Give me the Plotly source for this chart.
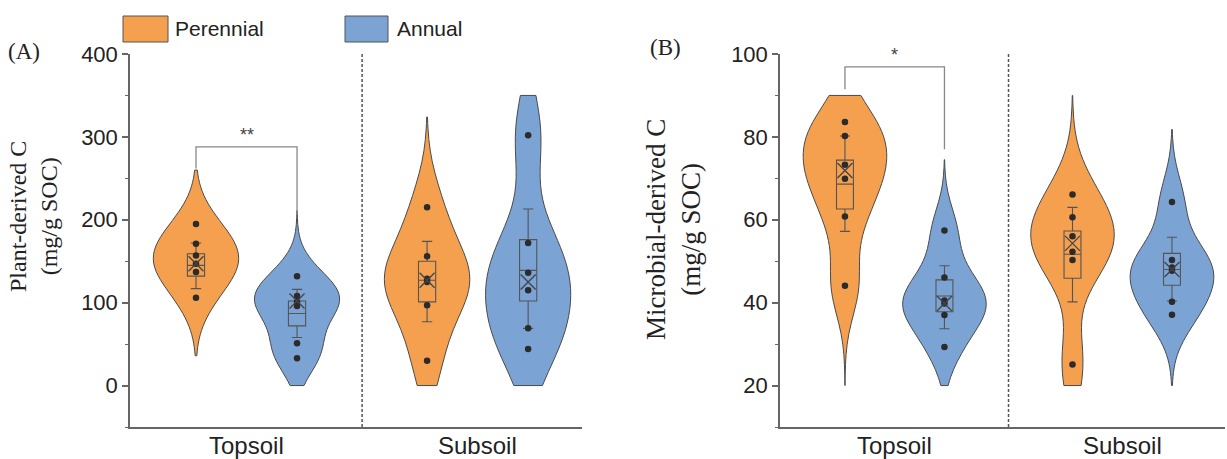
import numpy as np
import plotly.graph_objects as go

W, H = 1227, 459

# ---------------- data ----------------
groups = ["Topsoil", "Subsoil"]
treatments = ["Perennial", "Annual"]

# Panel A: Plant-derived C (mg/g SOC)
plant_top_per = [195, 171, 157, 147, 137, 106]
plant_top_ann = [132, 108, 101, 96, 51, 33]
plant_sub_per = [215, 156, 129, 125, 97, 30]
plant_sub_ann = [302, 172, 136, 115, 69, 44]

# box statistics: q1, median, q3, lower whisker, upper whisker, mean
plant_q1 = [132, 72, 101, 102]
plant_med = [145, 87, 127, 139]
plant_q3 = [159, 102, 150, 176]
plant_lo = [117, 58, 77, 69]
plant_hi = [172, 116, 174, 213]
plant_mean = [147, 102, 127, 125]
plant_span = [[36, 260], [0, 211], [0, 324], [0, 350]]

# Panel B: Microbial-derived C (mg/g SOC)
micro_top_per = [83.6, 80.2, 73.3, 69.9, 60.8, 44.1]
micro_top_ann = [57.4, 46.1, 40.5, 39.8, 37.0, 29.3]
micro_sub_per = [66.1, 60.6, 56.0, 52.3, 50.3, 25.1]
micro_sub_ann = [64.3, 50.3, 48.5, 47.7, 40.2, 37.1]

micro_q1 = [62.6, 37.8, 45.9, 44.2]
micro_med = [68.6, 41.6, 51.7, 48.0]
micro_q3 = [74.4, 45.5, 57.3, 51.9]
micro_lo = [57.2, 33.7, 40.2, 40.4]
micro_hi = [80.2, 48.9, 63.0, 55.8]
micro_mean = [71.9, 39.8, 54.3, 48.0]
micro_span = [[20, 90], [20, 74.5], [20, 90], [20, 81.8]]

sig_labels = ["**", "*"]
plant_bracket = [288, 262, 207]   # bar height, left leg end, right leg end
micro_bracket = [96.9, 91.5, 77.0]

# ---------------- style / layout constants ----------------
pos = [0, 1, 2.287, 3.287]
xr = [-0.653, 3.82]
divider_x = 1.644
colors = ["#F4A04F", "#7BA3D4", "#F4A04F", "#7BA3D4"]
bw_plant = [31, 26, 42, 50]
bw_micro = [7.5, 6.0, 8.5, 6.5]
vio_w = 0.84
axis_col = "#666666"
dark = "#2b2b2b"

def px(x):
    return x / W

def py(y):
    return 1 - y / H

fig = go.Figure()

def add_panel(xa, ya, series, q1, med, q3, lo, hi, mean, spans, bws):
    for i, vals in enumerate(series):
        fig.add_trace(go.Violin(
            x=[pos[i]] * len(vals), y=vals, xaxis=xa, yaxis=ya,
            width=vio_w, bandwidth=bws[i], spanmode="manual", span=spans[i],
            scalemode="width", fillcolor=colors[i], opacity=1,
            line=dict(color="#4a4a4a", width=1), points=False,
            box_visible=False, meanline_visible=False,
            hoverinfo="skip", showlegend=False))
    for i in range(len(series)):
        fig.add_trace(go.Box(
            x=[pos[i]], q1=[q1[i]], median=[med[i]], q3=[q3[i]],
            lowerfence=[lo[i]], upperfence=[hi[i]], xaxis=xa, yaxis=ya,
            width=0.17, whiskerwidth=0.6, fillcolor="rgba(0,0,0,0)",
            line=dict(color="#555555", width=1.1), boxpoints=False,
            hoverinfo="skip", showlegend=False))
    for i, vals in enumerate(series):
        fig.add_trace(go.Scatter(
            x=[pos[i]] * len(vals), y=vals, xaxis=xa, yaxis=ya, mode="markers",
            marker=dict(color=dark, size=6.5), hoverinfo="skip", showlegend=False))
    fig.add_trace(go.Scatter(
        x=pos, y=mean, xaxis=xa, yaxis=ya, mode="markers",
        marker=dict(symbol="x-thin-open", size=15, color="#444444",
                    line=dict(color="#444444", width=1.3)),
        hoverinfo="skip", showlegend=False))

add_panel("x", "y", [plant_top_per, plant_top_ann, plant_sub_per, plant_sub_ann],
          plant_q1, plant_med, plant_q3, plant_lo, plant_hi, plant_mean,
          plant_span, bw_plant)
add_panel("x2", "y2", [micro_top_per, micro_top_ann, micro_sub_per, micro_sub_ann],
          micro_q1, micro_med, micro_q3, micro_lo, micro_hi, micro_mean,
          micro_span, bw_micro)

sans = "Liberation Sans, Arial"
tickfont = dict(family=sans, size=22, color="#222222")
catfont = dict(family=sans, size=24, color="#222222")
serifA = dict(family="Liberation Serif, Times New Roman", size=24, color="#222222")
serifB = dict(family="Liberation Serif, Times New Roman", size=27, color="#222222")
serifL = dict(family="Liberation Serif, Times New Roman", size=23, color="#222222")

ydom = [py(427), py(54)]
xcfg = dict(range=xr, showline=True, linecolor=axis_col, linewidth=1.5,
            showticklabels=False, ticks="", showgrid=False,
            zeroline=False, fixedrange=True, automargin=False)
ycfg = dict(showline=True, linecolor=axis_col, linewidth=1.5, ticks="outside",
            ticklen=6, tickwidth=1.5, tickcolor=axis_col, tickfont=tickfont,
            showgrid=False, zeroline=False, domain=ydom, automargin=False)

fig.update_layout(
    template="none",
    width=W, height=H, margin=dict(l=0, r=0, t=0, b=0, pad=0),
    plot_bgcolor="white", paper_bgcolor="white",
    violinmode="overlay", boxmode="overlay", showlegend=False,
    xaxis=dict(domain=[px(130), px(582)], anchor="y", **xcfg),
    xaxis2=dict(domain=[px(780), px(1225)], anchor="y2", **xcfg),
    yaxis=dict(range=[-50, 400], tickvals=[0, 100, 200, 300, 400], anchor="x",
               minor=dict(dtick=50, tick0=0, ticklen=3.5, tickcolor=axis_col,
                          ticks="outside", tickwidth=1.2), **ycfg),
    yaxis2=dict(range=[10, 100], tickvals=[20, 40, 60, 80, 100], anchor="x2",
                minor=dict(dtick=10, tick0=0, ticklen=3.5, tickcolor=axis_col,
                           ticks="outside", tickwidth=1.2), **ycfg),
)

shapes = []
annotations = []
for xa, ya, br, lab in [("x", "y", plant_bracket, sig_labels[0]),
                        ("x2", "y2", micro_bracket, sig_labels[1])]:
    shapes.append(dict(type="line", xref=xa, yref=ya + " domain",
                       x0=divider_x, x1=divider_x, y0=0, y1=1,
                       line=dict(color="#555555", width=1.5, dash="3px,2px")))
    shapes.append(dict(type="path", xref=xa, yref=ya,
                       path=f"M {pos[0]},{br[1]} L {pos[0]},{br[0]} L {pos[1]},{br[0]} L {pos[1]},{br[2]}",
                       line=dict(color="#888888", width=1.3)))
    annotations.append(dict(xref=xa, yref=ya, x=(pos[0] + pos[1]) / 2, y=br[0],
                            text=lab, showarrow=False, yanchor="bottom",
                            font=dict(family=sans, size=18, color="#444444")))
    # category labels under each group
    for j, g in enumerate(groups):
        annotations.append(dict(xref=xa, yref="paper", x=(pos[2 * j] + pos[2 * j + 1]) / 2,
                                y=py(445), text=g, showarrow=False,
                                xanchor="center", yanchor="middle", font=catfont))

# legend
leg = [(123, 168, 173, treatments[0], colors[0]), (345, 388, 395, treatments[1], colors[1])]
for x0, x1, xt, name, col in leg:
    shapes.append(dict(type="rect", xref="paper", yref="paper",
                       x0=px(x0), x1=px(x1), y0=py(42), y1=py(16),
                       fillcolor=col, line=dict(color="#555555", width=1)))
    annotations.append(dict(xref="paper", yref="paper", x=px(xt), y=py(29),
                            text=name, showarrow=False, xanchor="left", yanchor="middle",
                            font=dict(family=sans, size=21, color="#222222")))

# panel labels and y titles
annotations += [
    dict(xref="paper", yref="paper", x=px(24), y=py(52), text="(A)", showarrow=False,
         xanchor="center", yanchor="middle", font=serifL),
    dict(xref="paper", yref="paper", x=px(666), y=py(47), text="(B)", showarrow=False,
         xanchor="center", yanchor="middle", font=serifL),
    dict(xref="paper", yref="paper", x=px(33), y=py(217), textangle=-90,
         text="Plant-derived C<br>(mg/g SOC)", showarrow=False,
         xanchor="center", yanchor="middle", font=serifA),
    dict(xref="paper", yref="paper", x=px(674), y=py(230), textangle=-90,
         text="Microbial-derived C<br>(mg/g SOC)", showarrow=False,
         xanchor="center", yanchor="middle", font=serifB),
]
fig.update_layout(shapes=shapes, annotations=annotations)

fig.write_html("out.html", config={"displayModeBar": False},
               post_script="document.body.style.margin='0';document.body.style.overflow='hidden';")
